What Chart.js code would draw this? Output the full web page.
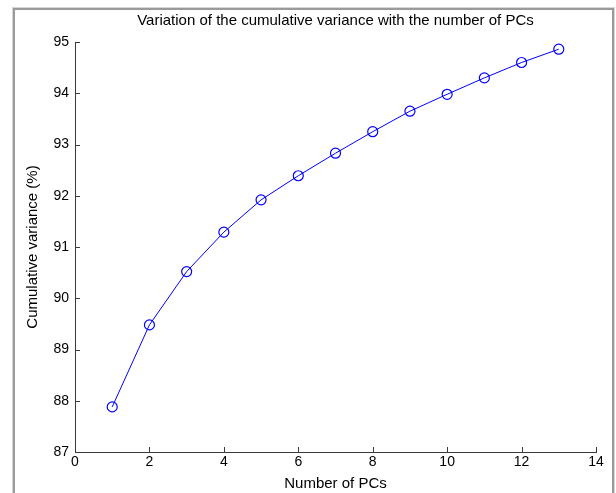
<!DOCTYPE html>
<html>
<head>
<meta charset="utf-8">
<script src="https://cdn.jsdelivr.net/npm/chart.js@4/dist/chart.umd.min.js"></script>
<style>
  html, body { margin: 0; padding: 0; background: #ffffff; }
  #wrap { width: 616px; height: 493px; position: relative; }
</style>
</head>
<body>
<div id="wrap"><canvas id="c" width="616" height="493"></canvas></div>
<script>
// ---- data ----
const numPCs = [1, 2, 3, 4, 5, 6, 7, 8, 9, 10, 11, 12, 13];
const cumVariance = [87.88, 89.48, 90.52, 91.29, 91.92, 92.39, 92.83, 93.25, 93.65, 93.98, 94.30, 94.60, 94.86];
const xTicks = [0, 2, 4, 6, 8, 10, 12, 14];
const yTicks = [87, 88, 89, 90, 91, 92, 93, 94, 95];
const titleText = 'Variation of the cumulative variance with the number of PCs';
const xLabel = 'Number of PCs';
const yLabel = 'Cumulative variance (%)';

const FONT = "'Liberation Sans', Arial, sans-serif";
const AXIS_COLOR = '#3a3a3a';

const points = numPCs.map((x, i) => ({ x: x, y: cumVariance[i] }));

// grey window frame like the reference figure border
const framePlugin = {
  id: 'frame',
  beforeDraw(chart) {
    const ctx = chart.ctx;
    ctx.save();
    ctx.fillStyle = '#ffffff';
    ctx.fillRect(0, 0, chart.width, chart.height);
    ctx.strokeStyle = '#d6d6d6';
    ctx.lineWidth = 1;
    ctx.strokeRect(12.5, 7.5, 602, 520);
    ctx.strokeStyle = '#9a9a9a';
    ctx.lineWidth = 2;
    ctx.strokeRect(14, 9, 599, 520);
    ctx.restore();
  }
};

// inward tick marks (MATLAB style)
const inwardTicks = {
  id: 'inwardTicks',
  afterDatasetsDraw(chart) {
    const ctx = chart.ctx;
    const xs = chart.scales.x, ys = chart.scales.y;
    const a = chart.chartArea;
    const len = 5;
    ctx.save();
    ctx.strokeStyle = AXIS_COLOR;
    ctx.lineWidth = 1;
    ctx.beginPath();
    xs.ticks.forEach(t => {
      const px = Math.round(xs.getPixelForValue(t.value)) + 0.5;
      ctx.moveTo(px, a.bottom);
      ctx.lineTo(px, a.bottom - len);
    });
    ys.ticks.forEach(t => {
      const py = Math.round(ys.getPixelForValue(t.value)) + 0.5;
      ctx.moveTo(a.left, py);
      ctx.lineTo(a.left + len, py);
    });
    ctx.stroke();
    ctx.restore();
  }
};

new Chart(document.getElementById('c'), {
  type: 'line',
  data: {
    datasets: [{
      data: points,
      borderColor: '#0000ff',
      borderWidth: 1,
      pointRadius: 5,
      pointHoverRadius: 5,
      pointBorderColor: '#0000ff',
      pointBackgroundColor: 'rgba(0,0,0,0)',
      pointBorderWidth: 1.2,
      tension: 0,
      fill: false,
      clip: false
    }]
  },
  options: {
    responsive: false,
    animation: false,
    devicePixelRatio: 1,
    layout: { padding: { left: 0, right: 20, top: 0, bottom: 0 } },
    plugins: {
      legend: { display: false },
      tooltip: { enabled: false },
      title: {
        display: true,
        text: titleText,
        fullSize: false,
        color: '#000000',
        font: { family: FONT, size: 15, weight: 'normal' },
        padding: { top: 12, bottom: 12 }
      }
    },
    scales: {
      x: {
        type: 'linear',
        min: 0,
        max: 14,
        afterBuildTicks(scale) { scale.ticks = xTicks.map(v => ({ value: v })); },
        ticks: {
          color: '#000000',
          font: { family: FONT, size: 14 },
          padding: 2,
          maxRotation: 0,
          autoSkip: false
        },
        grid: { display: false, drawTicks: false },
        border: { display: true, color: AXIS_COLOR, width: 1 },
        title: {
          display: true,
          text: xLabel,
          color: '#000000',
          font: { family: FONT, size: 15 },
          padding: { top: 0, bottom: 0 }
        },
        afterFit(scale) { scale.height = 41; }
      },
      y: {
        type: 'linear',
        min: 87,
        max: 95,
        afterBuildTicks(scale) { scale.ticks = yTicks.map(v => ({ value: v })); },
        ticks: {
          color: '#000000',
          font: { family: FONT, size: 14 },
          padding: 6,
          autoSkip: false
        },
        grid: { display: false, drawTicks: false },
        border: { display: true, color: AXIS_COLOR, width: 1 },
        title: {
          display: true,
          text: yLabel,
          color: '#000000',
          font: { family: FONT, size: 15 },
          padding: { top: 24, bottom: 0 }
        },
        afterFit(scale) { scale.width = 75; }
      }
    }
  },
  plugins: [framePlugin, inwardTicks]
});
</script>
</body>
</html>
